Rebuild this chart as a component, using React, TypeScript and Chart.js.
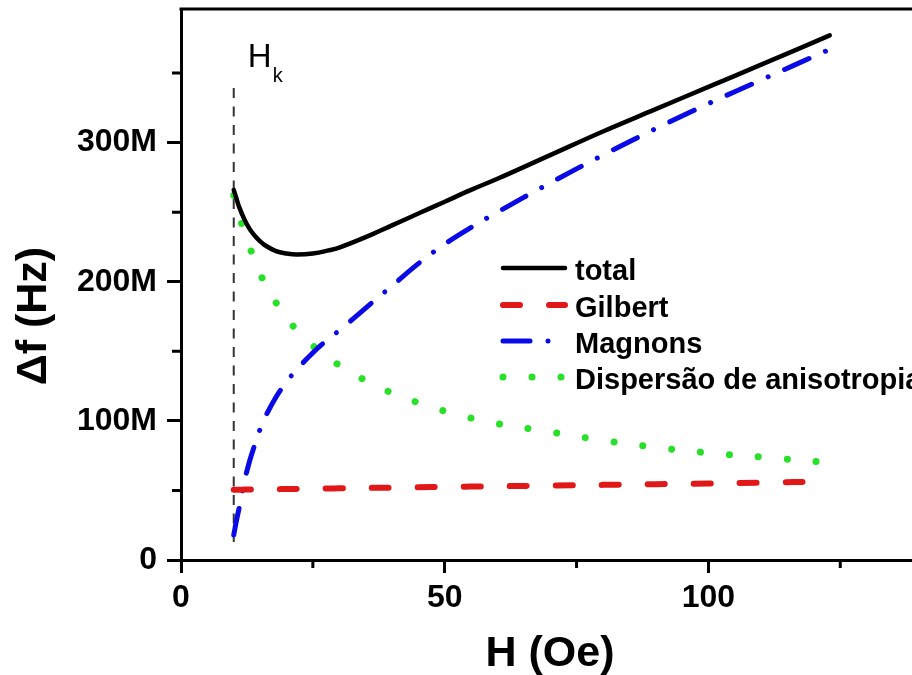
import React, { useEffect, useRef } from 'react';
import { Chart, registerables } from 'chart.js';

Chart.register(...registerables);

// ---- data (H in Oe, linewidth contributions in MHz) ----
const H_OE = [10, 10.5, 11, 12, 13, 14, 15, 16, 18, 20, 22, 25, 28, 30, 35, 40, 45, 50, 55, 60, 70, 80, 90, 100, 110, 123];
const TOTAL = [266, 260, 254, 245, 238, 233, 229, 226, 222, 220.3, 219.6, 220.3, 222.5, 224.5, 232, 240.5, 249, 257.5, 266, 274, 291, 308, 324, 340, 356, 377];
const GILBERT = [50.5, 50.5, 50.5, 50.6, 50.6, 50.7, 50.7, 50.8, 50.9, 51, 51.1, 51.2, 51.4, 51.5, 51.8, 52, 52.3, 52.5, 52.8, 53, 53.5, 54, 54.5, 55, 55.6, 56.5];
const MAGNONS = [18, 28, 37, 56, 71, 83, 94, 103, 117, 128, 137, 149, 159, 165, 181, 197, 213, 227, 239, 250, 271, 291, 310, 328, 345, 367];
const DISPERSAO = [262, 255, 248, 236, 225, 215, 206, 198, 185, 174, 165, 154, 145, 140, 129, 120, 113, 107, 102, 98, 92, 86, 81, 77, 74, 70];

const SERIES_NAMES = ['total', 'Gilbert', 'Magnons', 'Dispersão de anisotropia'];
const HK_FIELD = 10;
const HK_SPAN = [13, 340];

const X_MIN = 0;
const X_MAX = 138.6;
const Y_MIN = 0;
const Y_MAX = 396;
const X_MAJOR_TICKS = [0, 50, 100];
const X_MINOR_TICKS = [25, 75, 125];
const Y_MAJOR_TICKS = [0, 100, 200, 300];
const Y_MINOR_TICKS = [50, 150, 250, 350];

const X_TITLE = 'H (Oe)';
const Y_TITLE = 'Δf (Hz)';

const FONT = "'Liberation Sans', Arial, Helvetica, sans-serif";

const pts = (vals: number[]) => H_OE.map((h, i) => ({ x: h, y: vals[i] }));

const overlayPlugin = {
  id: 'overlay',
  afterDraw(chart: any) {
    const { ctx, chartArea: a, scales } = chart;
    const x = scales.x;
    const y = scales.y;
    ctx.save();
    ctx.setLineDash([]);
    ctx.strokeStyle = '#000';
    ctx.lineCap = 'butt';
    // top frame
    ctx.lineWidth = 3;
    ctx.beginPath();
    ctx.moveTo(a.left - 1.5, a.top);
    ctx.lineTo(a.right, a.top);
    ctx.stroke();
    // minor ticks
    ctx.beginPath();
    for (const v of X_MINOR_TICKS) {
      const px = x.getPixelForValue(v);
      ctx.moveTo(px, a.bottom);
      ctx.lineTo(px, a.bottom + 8);
    }
    for (const v of Y_MINOR_TICKS) {
      const py = y.getPixelForValue(v);
      ctx.moveTo(a.left, py);
      ctx.lineTo(a.left - 9, py);
    }
    ctx.stroke();

    // H_k label
    const hx = x.getPixelForValue(HK_FIELD);
    const hy = y.getPixelForValue(HK_SPAN[1]);
    ctx.fillStyle = '#000';
    ctx.textBaseline = 'alphabetic';
    ctx.textAlign = 'left';
    ctx.font = `33px ${FONT}`;
    ctx.fillText('H', hx + 14, hy - 20);
    ctx.font = `20px ${FONT}`;
    ctx.fillText('k', hx + 39, hy - 5);

    // legend
    const rows = [268, 305, 341, 377];
    const lx0 = a.left + 322;
    const lx1 = a.left + 384;
    SERIES_NAMES.forEach((name, i) => {
      const ds = chart.data.datasets[i];
      const ly = rows[i];
      ctx.save();
      ctx.strokeStyle = ds.borderColor;
      ctx.lineWidth = ds.borderWidth;
      ctx.lineCap = ds.borderCapStyle || 'butt';
      ctx.setLineDash(ds.borderDash || []);
      ctx.beginPath();
      ctx.moveTo(lx0, ly);
      ctx.lineTo(lx1, ly);
      ctx.stroke();
      ctx.restore();
      ctx.fillStyle = '#000';
      ctx.font = `bold 29px ${FONT}`;
      ctx.textAlign = 'left';
      ctx.textBaseline = 'alphabetic';
      ctx.fillText(name, lx1 + 10, ly + 12);
    });

    // axis titles
    ctx.font = `bold 43px ${FONT}`;
    ctx.textAlign = 'center';
    ctx.textBaseline = 'alphabetic';
    ctx.fillText(X_TITLE, 550, 666);
    ctx.save();
    ctx.translate(46, 316);
    ctx.rotate(-Math.PI / 2);
    ctx.fillText(Y_TITLE, 0, 0);
    ctx.restore();

    ctx.restore();
  },
};

export default function App() {
  const ref = useRef<HTMLCanvasElement | null>(null);
  useEffect(() => {
    if (!ref.current) return;
    const tickFont = { family: FONT, size: 32, weight: 'bold' as const };
    const chart = new Chart(ref.current, {
      type: 'line',
      data: {
        datasets: [
          {
            label: SERIES_NAMES[0],
            data: pts(TOTAL),
            borderColor: '#000000',
            borderWidth: 4.5,
            borderCapStyle: 'round',
            tension: 0.4,
            pointRadius: 0,
          },
          {
            label: SERIES_NAMES[1],
            data: pts(GILBERT),
            borderColor: '#e01818',
            borderWidth: 6,
            borderDash: [17, 29],
            borderCapStyle: 'round',
            tension: 0.4,
            pointRadius: 0,
          },
          {
            label: SERIES_NAMES[2],
            data: pts(MAGNONS),
            borderColor: '#0a0ae6',
            borderWidth: 5,
            borderDash: [27, 18, 0.01, 18],
            borderCapStyle: 'round',
            tension: 0.4,
            pointRadius: 0,
          },
          {
            label: SERIES_NAMES[3],
            data: pts(DISPERSAO),
            borderColor: '#28e028',
            borderWidth: 7,
            borderDash: [0.01, 29],
            borderCapStyle: 'round',
            tension: 0.4,
            pointRadius: 0,
          },
          {
            label: 'Hk',
            data: [
              { x: HK_FIELD, y: HK_SPAN[0] },
              { x: HK_FIELD, y: HK_SPAN[1] },
            ],
            borderColor: '#333333',
            borderWidth: 2,
            borderDash: [10, 8.5],
            pointRadius: 0,
          },
        ],
      },
      options: {
        responsive: false,
        animation: false,
        layout: { padding: { top: 9, left: 0, right: 0, bottom: 0 } },
        plugins: {
          legend: { display: false },
          tooltip: { enabled: false },
        },
        scales: {
          x: {
            type: 'linear',
            min: X_MIN,
            max: X_MAX,
            border: { display: true, color: '#000', width: 3 },
            grid: {
              display: true,
              drawOnChartArea: false,
              drawTicks: true,
              tickLength: 13,
              tickWidth: 3,
              tickColor: (c: any) =>
                c.tick && X_MAJOR_TICKS.includes(c.tick.value) ? '#000' : 'rgba(0,0,0,0)',
            },
            ticks: {
              stepSize: 25,
              includeBounds: false,
              autoSkip: false,
              maxRotation: 0,
              padding: 6,
              color: '#000',
              font: tickFont,
              callback: (v: any) => (X_MAJOR_TICKS.includes(Number(v)) ? String(v) : ''),
            },
            afterFit: (s: any) => {
              s.height = 115;
              s.paddingLeft = 0;
              s.paddingRight = 0;
            },
          },
          y: {
            type: 'linear',
            min: Y_MIN,
            max: Y_MAX,
            border: { display: true, color: '#000', width: 3 },
            grid: {
              display: true,
              drawOnChartArea: false,
              drawTicks: true,
              tickLength: 14,
              tickWidth: 3,
              tickColor: (c: any) =>
                c.tick && Y_MAJOR_TICKS.includes(c.tick.value) ? '#000' : 'rgba(0,0,0,0)',
            },
            ticks: {
              stepSize: 50,
              includeBounds: false,
              autoSkip: false,
              padding: 10,
              color: '#000',
              font: tickFont,
              callback: (v: any) => {
                const n = Number(v);
                if (!Y_MAJOR_TICKS.includes(n)) return '';
                return n === 0 ? '0' : `${n}M`;
              },
            },
            afterFit: (s: any) => {
              s.width = 181;
              s.paddingTop = 0;
              s.paddingBottom = 0;
            },
          },
        },
      },
      plugins: [overlayPlugin],
    });
    return () => chart.destroy();
  }, []);

  return (
    <div style={{ position: 'fixed', left: 0, top: 0, width: 912, height: 675, background: '#fff' }}>
      <canvas ref={ref} width={912} height={675} style={{ width: 912, height: 675, display: 'block' }} />
    </div>
  );
}
